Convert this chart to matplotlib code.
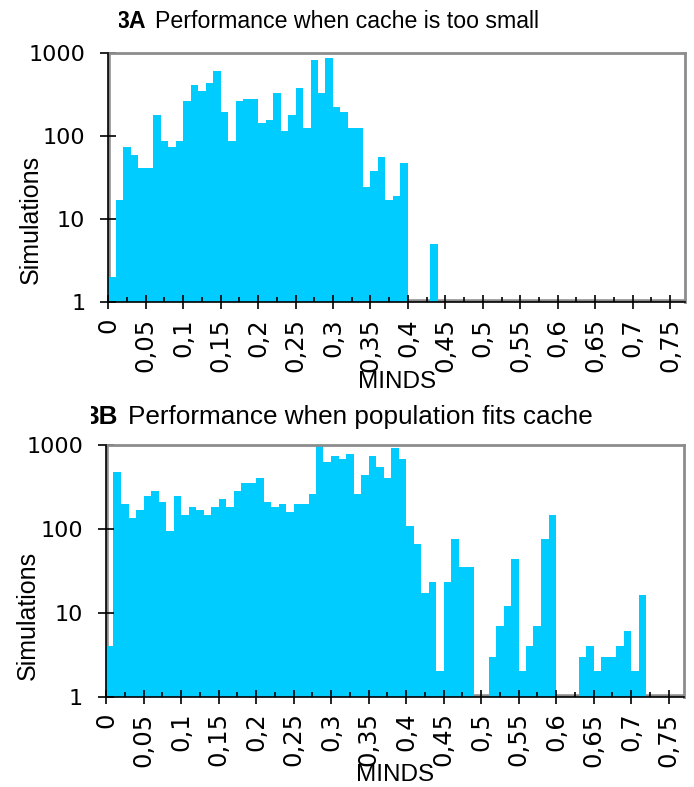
import numpy as np
import matplotlib.pyplot as plt
from matplotlib.ticker import FixedLocator, MultipleLocator, NullLocator
from matplotlib.transforms import Bbox

W, H = 694, 787  # output size in pixels (dpi 100)

#%% data: simulations per 0.01 wide MINDS bin, bins start at 0, 0.01, ... 0.76
bin_width = 0.01
bin_edges = np.round(np.arange(78) * bin_width, 2)

# 3A performance when cache is too small
counts_small = [2, 17, 74, 59, 41, 41, 179, 87, 74, 87,
                265, 414, 350, 438, 595, 195, 87, 265, 280, 280,
                144, 156, 331, 115, 179, 381, 125, 807, 331, 854,
                224, 195, 125, 125, 24, 38, 56, 17, 19, 47,
                0, 0, 0, 5] + [0] * 33

# 3B performance when population fits cache
counts_fits = [4, 471, 195, 133, 166, 243, 279, 206, 93, 243,
               144, 180, 166, 144, 180, 224, 180, 279, 348, 348,
               400, 206, 180, 195, 157, 195, 195, 257, 1000, 621,
               732, 674, 773, 257, 434, 732, 541, 400, 912, 674,
               107, 65, 17, 23, 2, 23, 75, 35, 35,
               0, 0,
               3, 7, 12, 44, 2, 4, 7, 75, 144,
               0, 0, 0,
               3, 4, 2, 3, 3, 4, 6, 2, 16] + [0] * 5

xtick_values = np.round(np.arange(16) * 0.05, 2)
xtick_labels = ["0", "0,05", "0,1", "0,15", "0,2", "0,25", "0,3", "0,35",
                "0,4", "0,45", "0,5", "0,55", "0,6", "0,65", "0,7", "0,75"]
ytick_values = [1, 10, 100, 1000]
ytick_labels = ["1", "10", "100", "1000"]

BAR = '#00CCFF'
FRAME = '#8c8c8c'
SANS = ['Liberation Sans', 'DejaVu Sans']


def px(x, y):
    """pixel position (from top left) -> figure fraction"""
    return x / W, 1 - y / H


def draw_panel(ax, counts, xlabel_y, ylabel_y):
    counts = np.asarray(counts, dtype=float)
    # empty bins sit on the baseline (1 on the log axis) so they draw nothing
    heights = np.where(counts > 0, counts, 1)
    # grey frame line along the bottom/left, bars sit on top of it
    ax.axhline(1, color=FRAME, lw=4, zorder=0.5)
    ax.axvline(0, color=FRAME, lw=4, zorder=0.5)
    # one filled step outline -> no hairline gaps between neighbouring bins
    ax.set_yscale('log')
    ax.stairs(heights, bin_edges, baseline=1, fill=True, color=BAR,
              linewidth=0, zorder=1)
    ax.set_xlim(0, 0.77)
    ax.set_ylim(1, 1000)

    for side in ['top', 'right']:
        ax.spines[side].set_color(FRAME)
        ax.spines[side].set_linewidth(2)
    for side in ['left', 'bottom']:
        ax.spines[side].set_color('k')
        ax.spines[side].set_linewidth(1.2)
        ax.spines[side].set_zorder(3)

    ax.xaxis.set_major_locator(FixedLocator(xtick_values))
    ax.set_xticklabels(xtick_labels, rotation=90, fontsize=17.5,
                       family='DejaVu Sans')
    ax.xaxis.set_minor_locator(MultipleLocator(0.025))
    ax.yaxis.set_major_locator(FixedLocator(ytick_values))
    ax.yaxis.set_minor_locator(NullLocator())
    ax.set_yticklabels(ytick_labels, fontsize=16, family='DejaVu Sans')

    ax.tick_params(axis='x', which='major', direction='inout', length=10,
                   width=1.2, color='k', pad=6.3)
    ax.tick_params(axis='x', which='minor', direction='in', length=3.5,
                   width=1.2, color='k')
    ax.tick_params(axis='y', which='major', direction='inout', length=11,
                   width=1.2, color='k', pad=11)

    ax.set_xlabel("MINDS", fontsize=17.5, family=SANS, va='baseline')
    ax.xaxis.set_label_coords(0.5, xlabel_y)
    ax.set_ylabel("Simulations", fontsize=18, family=SANS, va='center')
    ax.yaxis.set_label_coords(-0.135, ylabel_y)


def panel_title(fig, code, text, size, code_right, clip_left, text_left, baseline):
    t = fig.text(*px(code_right, baseline), code, ha='right', va='baseline',
                 fontsize=size, weight='bold', family=SANS)
    # the figure number is cut off at the left in the original
    t.set_clip_box(Bbox.from_extents(clip_left, 0, W, H))
    t.set_clip_on(True)
    fig.text(*px(text_left, baseline), text, ha='left', va='baseline',
             fontsize=size, family=SANS)


fig = plt.figure(figsize=(W / 100, H / 100), dpi=100, facecolor='white')

axA = fig.add_axes([108.3 / W, 1 - 302.3 / H, 576.7 / W, 249.6 / H])
draw_panel(axA, counts_small, -0.344, 0.33)
panel_title(fig, "3A", "Performance when cache is too small", 16.7,
            146, 119, 155, 28)

axB = fig.add_axes([106 / W, 1 - 696.7 / H, 577.5 / W, 252.2 / H])
draw_panel(axB, counts_fits, -0.334, 0.323)
panel_title(fig, "3B", "Performance when population fits cache", 18.8,
            118, 91, 128, 424)

fig.savefig("out.png", dpi=100, facecolor='white')
